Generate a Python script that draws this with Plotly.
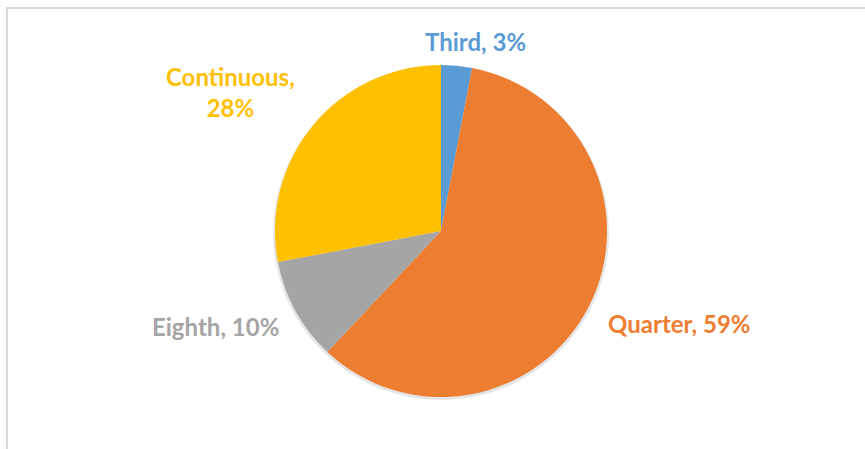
import plotly.graph_objects as go

# Slice data
labels = ["Third", "Quarter", "Eighth", "Continuous"]
values = [3, 59, 10, 28]
colors = ["#5B9BD5", "#ED7D31", "#A5A5A5", "#FFC000"]

W, H = 865, 449
cx, cy, r = 441, 231, 166

def px(x):
    return x / W

def py(y):
    return 1 - y / H

total = sum(values)
pct = [round(v * 100 / total) for v in values]

fig = go.Figure()
fig.add_trace(go.Pie(
    labels=labels,
    values=values,
    sort=False,
    direction="clockwise",
    rotation=0,
    marker=dict(colors=colors, line=dict(width=0)),
    textinfo="none",
    hoverinfo="label+percent",
    showlegend=False,
    domain=dict(x=[px(cx - r), px(cx + r)], y=[py(cy + r), py(cy - r)]),
))

# Outside data labels (label, percent) in slice colours
label_pos = {
    "Third": (475, 41, "{}, {}%"),
    "Quarter": (679, 323, "{}, {}%"),
    "Eighth": (215, 326, "{}, {}%"),
    "Continuous": (231, 92, "{},<br>{}%"),
}
for lab, p, col in zip(labels, pct, colors):
    x, y, fmt = label_pos[lab]
    fig.add_annotation(
        x=px(x), y=py(y), xref="paper", yref="paper",
        text=fmt.format(lab, p), showarrow=False,
        font=dict(family="Lato", size=24, color=col, weight="bold"),
        xanchor="center", yanchor="middle", align="center",
    )

shapes = [
    # soft shadow under the pie
    dict(type="circle", xref="paper", yref="paper",
         x0=px(cx - r - 2), x1=px(cx + r + 2), y0=py(cy + r + 3), y1=py(cy - r + 1),
         fillcolor="rgba(0,0,0,0.10)", line=dict(width=0), layer="below"),
    # chart area frame
    dict(type="rect", xref="paper", yref="paper",
         x0=px(7), x1=1.05, y0=-0.05, y1=py(8),
         line=dict(color="#D9D9D9", width=2), fillcolor="rgba(0,0,0,0)", layer="below"),
]

fig.update_layout(
    width=W, height=H,
    margin=dict(l=0, r=0, t=0, b=0),
    paper_bgcolor="white",
    plot_bgcolor="white",
    shapes=shapes,
)

fig.write_html("out.html")
